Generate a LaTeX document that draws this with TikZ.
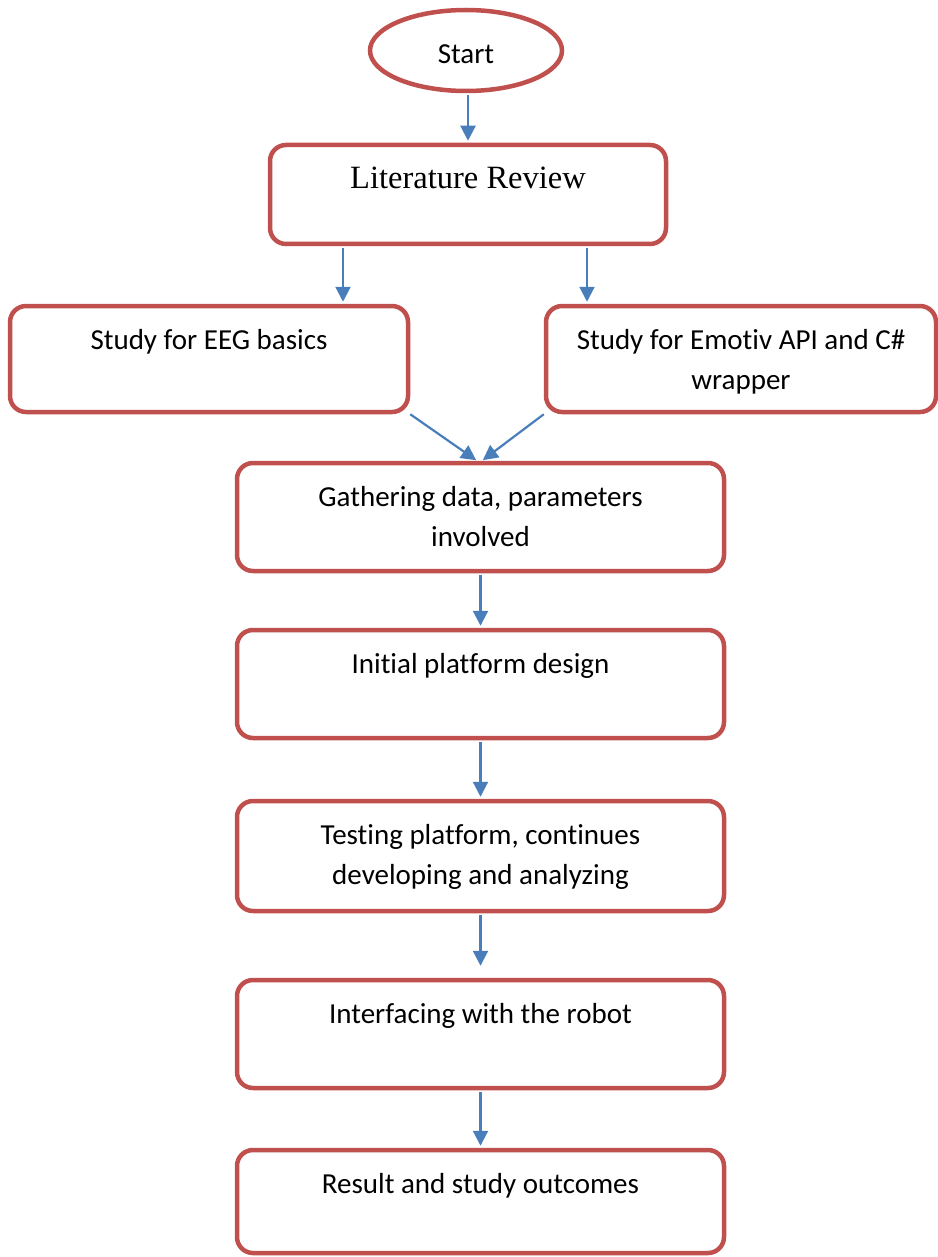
\documentclass[tikz,border=0pt]{standalone}
\usepackage{fontspec}
\setmainfont[Ligatures=NoCommon]{Carlito}
\newfontfamily\serifface[Ligatures=NoCommon]{Liberation Serif}
\usetikzlibrary{shapes.geometric,arrows.meta}
\definecolor{boxred}{RGB}{192,80,77}
\definecolor{flowblue}{RGB}{74,126,187}
% strut that fixes every text line to 28pt above and 12pt below its baseline
\newcommand\linestrut{\rule[-12pt]{0pt}{40pt}}

\begin{document}
\begin{tikzpicture}[x=1pt,y=-1pt,
  stagebox/.style={draw=boxred, line width=4.5pt, rounded corners=16pt,
    inner sep=0pt, fill=white},
  oval/.style={ellipse, draw=boxred, line width=4.5pt, inner sep=0pt,
    fill=white, minimum width=192pt, minimum height=81pt},
  boxtext/.style={inner sep=0pt, anchor=north, align=center,
    font=\fontsize{29}{40}\selectfont},
  flow/.style={draw=flowblue, line width=2.2pt,
    -{Triangle[length=15pt,width=15pt]}, shorten >=2pt, shorten <=2pt}
]
\useasboundingbox (0,0) rectangle (937,1257);

% stages
\node[oval] (start) at (466,50.5) {};
\node[stagebox, minimum width=396pt, minimum height=99pt]  (lit)    at (468,194.5) {};
\node[stagebox, minimum width=398pt, minimum height=106pt] (left)   at (209,359) {};
\node[stagebox, minimum width=390pt, minimum height=106pt] (right)  at (741,359) {};
\node[stagebox, minimum width=487pt, minimum height=108pt] (gather) at (480.5,517) {};
\node[stagebox, minimum width=487pt, minimum height=108pt] (init)   at (480.5,684) {};
\node[stagebox, minimum width=487pt, minimum height=110pt] (test)   at (480.5,856) {};
\node[stagebox, minimum width=487pt, minimum height=108pt] (iface)  at (480.5,1034) {};
\node[stagebox, minimum width=487pt, minimum height=103pt] (result) at (480.5,1201.5) {};

% texts, set near the top of each stage
\node[boxtext] (startT)  at ([yshift=15.5pt]start.center) {\linestrut Start};
\node[boxtext] (litT)    at ([yshift=-17.5pt]lit.north)
  {\serifface\fontsize{32.5}{40}\selectfont\linestrut Literature Review};
\node[boxtext] (leftT)   at ([yshift=-17.5pt]left.north)  {\linestrut Study for EEG basics};
\node[boxtext] (rightT)  at ([yshift=-17.5pt]right.north)
  {\linestrut Study for Emotiv API and C\#\\\linestrut wrapper};
\node[boxtext] (gatherT) at ([yshift=-17.5pt]gather.north)
  {\linestrut Gathering data, parameters\\\linestrut involved};
\node[boxtext] (initT)   at ([yshift=-17.5pt]init.north)  {\linestrut Initial platform design};
\node[boxtext] (testT)   at ([yshift=-17.5pt]test.north)
  {\linestrut Testing platform, continues\\\linestrut developing and analyzing};
\node[boxtext] (ifaceT)  at ([yshift=-17.5pt]iface.north) {\linestrut Interfacing with the robot};
\node[boxtext] (resultT) at ([yshift=-17.5pt]result.north) {\linestrut Result and study outcomes};

% connectors
\draw[flow] (start.south -| lit.north) -- (lit.north);
\draw[flow] ([xshift=-125pt]lit.south) -- ([xshift=134pt]left.north);
\draw[flow] ([xshift=119pt]lit.south) -- ([xshift=-154pt]right.north);
\draw[flow, shorten <=0pt, shorten >=1pt] (left.south east) -- ([xshift=-3.5pt]gather.north);
\draw[flow, shorten <=0pt, shorten >=1pt] (right.south west) -- ([xshift=1.5pt]gather.north);
\draw[flow] (gather.south) -- (init.north);
\draw[flow] (init.south) -- (test.north);
\draw[flow, shorten >=12pt] (test.south) -- (iface.north);
\draw[flow] (iface.south) -- (result.north);
\end{tikzpicture}
\end{document}
